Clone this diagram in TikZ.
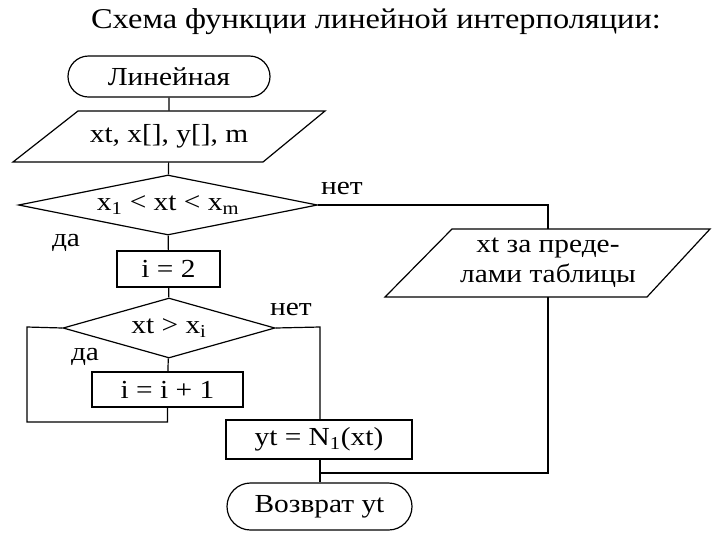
\documentclass[tikz,border=0pt]{standalone}
\usepackage{fontspec}
\setmainfont{Liberation Serif}[FakeStretch=1.13]
\usetikzlibrary{shapes.geometric,shapes.misc}
\begin{document}
\begin{tikzpicture}[x=0.75pt,y=-0.75pt,
  every node/.style={font=\fontsize{19.5}{21}\selectfont},
  line/.style={line width=0.9pt},
  base/.style={draw,line width=0.9pt,inner sep=0pt,align=center},
  term/.style={base,rounded rectangle},
  proc/.style={base,rectangle},
  iotext/.style={inner sep=0pt,align=center},
  dec/.style={base,diamond},
  lbl/.style={inner sep=0pt}]
\useasboundingbox (0,0) rectangle (720,540);
\node[lbl,font=\fontsize{21.5}{23}\selectfont] (title) at (376,22) {Схема функции линейной интерполяции:};
\node[term,minimum width=151.5pt,minimum height=30.75pt] (t1) at (169,76.5) {Линейная};
\node[iotext,minimum width=150pt,minimum height=38.25pt] (p1) at (169,136.5) {xt, x[], y[], m};
\draw[line] (78,111) -- (325,111) -- (263,162) -- (13,162) -- cycle;
\node[dec,aspect=5,minimum width=224.25pt,minimum height=45pt] (d1) at (168,205) {x\textsubscript{1} < xt < x\textsubscript{m}};
\node[proc,minimum width=77.25pt,minimum height=27pt] (b1) at (168.5,269) {i = 2};
\node[dec,aspect=3.5,minimum width=159pt,minimum height=45pt] (d2) at (169,328) {xt > x\textsubscript{i}};
\node[proc,minimum width=113.25pt,minimum height=26.25pt] (b2) at (167.5,389.5) {i = i + 1};
\node[proc,minimum width=139.5pt,minimum height=29.25pt] (b3) at (319,439.5) {yt = N\textsubscript{1}(xt)};
\node[term,minimum width=138.75pt,minimum height=35.25pt] (t2) at (319.5,506.5) {Возврат yt};
\node[iotext,minimum width=150pt,minimum height=51pt,font=\fontsize{19.5}{22.5}\selectfont] (p2) at (548,263) {xt за преде-\\лами таблицы};
\draw[line] (452,229) -- (710,229) -- (647,297) -- (385,297) -- cycle;
\node[lbl] (n1) at (342,188) {нет};
\node[lbl] (y1) at (66,243) {да};
\node[lbl] (n2) at (291,309) {нет};
\node[lbl] (y2) at (85,357) {да};
\coordinate (c1) at (548,205);
\coordinate (c2) at (320,327);
\coordinate (c3) at (27,327);
\coordinate (c4) at (27,422);
\coordinate (c5) at (167.5,422);
\coordinate (c6) at (320,473);
\coordinate (c7) at (548,473);
\draw[line] (t1) -- (p1);
\draw[line] (p1) -- (d1);
\draw[line] (d1) -- (b1);
\draw[line] (b1) -- (d2);
\draw[line] (d2) -- (b2);
\draw[line] (d1.east) -- (c1) -- (c1 |- p2.north);
\draw[line] (d2.east) -- (c2) -- (c2 |- b3.north);
\draw[line] (d2.west) -- (c3) -- (c4) -- (c5) -- (b2.south);
\draw[line] (b3.south -| c6) -- (t2.north -| c6);
\draw[line] (c6) -- (c7) -- (c7 |- p2.south);
\end{tikzpicture}
\end{document}
